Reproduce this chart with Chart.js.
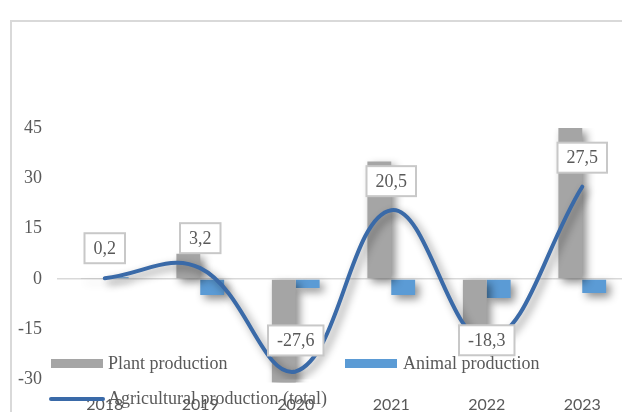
<!DOCTYPE html>
<html>
<head>
<meta charset="utf-8">
<script src="https://cdn.jsdelivr.net/npm/chart.js@4.4.1/dist/chart.umd.min.js"></script>
<style>
  html, body { margin: 0; padding: 0; background: #fff; overflow: hidden; }
  #wrap { width: 640px; height: 412px; }
</style>
</head>
<body>
<div id="wrap"><canvas id="myChart" width="640" height="412"></canvas></div>
<script>
// growth rates, %
const years = ['2018', '2019', '2020', '2021', '2022', '2023']
const plantProduction = [0.1, 7.5, -31, 35, -16, 45]
const animalProduction = [0.5, -4.8, -2.7, -4.8, -5.7, -4.2]
const totalProduction = [0.2, 3.2, -27.6, 20.5, -18.3, 27.5]

const yMin = -30
const yMax = 45
const yStep = 15

const seriesNames = ['Plant production', 'Animal production', 'Agricultural production (total)']

const grey = '#a5a5a5'
const blue = '#5b9bd5'
const darkBlue = '#3a6aa8'
const textGrey = '#595959'

// label sits above its point, except the 2022 one which is centred on it
const labelLift = [30, 30, 31, 29, 0, 29]

function fmt(v) {
  return v.toFixed(1).replace('.', ',')
}

// soft drop shadow under bars and the line
const shadowPlugin = {
  id: 'shadow',
  beforeDatasetDraw(chart) {
    const ctx = chart.ctx
    ctx.save()
    ctx.shadowColor = 'rgba(0,0,0,0.45)'
    ctx.shadowBlur = 8
    ctx.shadowOffsetX = 4
    ctx.shadowOffsetY = 4
  },
  afterDatasetDraw(chart) {
    chart.ctx.restore()
  }
}

// outer frame of the chart
const framePlugin = {
  id: 'frame',
  beforeDraw(chart) {
    const ctx = chart.ctx
    ctx.save()
    ctx.strokeStyle = '#d9d9d9'
    ctx.lineWidth = 2
    ctx.beginPath()
    ctx.moveTo(11, chart.height)
    ctx.lineTo(11, 21)
    ctx.lineTo(chart.width, 21)
    ctx.stroke()
    ctx.restore()
  }
}

// boxed value labels on the total line
const boxLabels = {
  id: 'boxLabels',
  afterDatasetsDraw(chart) {
    const ctx = chart.ctx
    const meta = chart.getDatasetMeta(0)
    const vals = chart.data.datasets[0].data
    ctx.save()
    ctx.font = '18px "Liberation Serif", "Times New Roman", serif'
    ctx.textAlign = 'center'
    ctx.textBaseline = 'middle'
    meta.data.forEach((pt, i) => {
      const txt = fmt(vals[i])
      const w = ctx.measureText(txt).width + 18
      const h = 30
      const cx = pt.x
      const cy = pt.y - labelLift[i]
      ctx.fillStyle = '#fff'
      ctx.fillRect(cx - w / 2, cy - h / 2, w, h)
      ctx.strokeStyle = '#c8c8c8'
      ctx.lineWidth = 2
      ctx.strokeRect(cx - w / 2, cy - h / 2, w, h)
      ctx.fillStyle = textGrey
      ctx.fillText(txt, cx, cy + 1)
    })
    ctx.restore()
  }
}

// legend drawn inside the plot, over the bottom of the chart
const innerLegend = {
  id: 'innerLegend',
  afterDraw(chart) {
    const ctx = chart.ctx
    const ds = chart.data.datasets
    ctx.save()
    ctx.font = '18px "Liberation Serif", "Times New Roman", serif'
    ctx.textBaseline = 'middle'
    ctx.fillStyle = ds[1].backgroundColor
    ctx.fillRect(51, 359, 52, 9)
    ctx.fillStyle = ds[2].backgroundColor
    ctx.fillRect(345, 359, 52, 9)
    ctx.strokeStyle = ds[0].borderColor
    ctx.lineWidth = 4
    ctx.lineCap = 'round'
    ctx.beginPath()
    ctx.moveTo(51, 399)
    ctx.lineTo(103, 399)
    ctx.stroke()
    ctx.fillStyle = textGrey
    ctx.fillText(ds[1].label, 108, 364)
    ctx.fillText(ds[2].label, 403, 364)
    ctx.fillText(ds[0].label, 108, 399)
    ctx.restore()
  }
}

const data = {
  labels: years,
  datasets: [
    {
      type: 'line',
      label: seriesNames[2],
      data: totalProduction,
      borderColor: darkBlue,
      backgroundColor: darkBlue,
      borderWidth: 4,
      borderCapStyle: 'round',
      tension: 0.4,
      pointRadius: 0,
      fill: false,
      order: 0
    },
    {
      type: 'bar',
      label: seriesNames[0],
      data: plantProduction,
      backgroundColor: grey,
      categoryPercentage: 0.5,
      barPercentage: 1.0,
      clip: { left: 0, top: 0, right: 0, bottom: 3 },
      order: 1
    },
    {
      type: 'bar',
      label: seriesNames[1],
      data: animalProduction,
      backgroundColor: blue,
      categoryPercentage: 0.5,
      barPercentage: 1.0,
      order: 1
    }
  ]
}

const config = {
  data: data,
  options: {
    responsive: false,
    devicePixelRatio: 1,
    animation: false,
    layout: { padding: { top: 128, right: 10, bottom: 0, left: 0 } },
    plugins: {
      legend: { display: false },
      tooltip: { enabled: false }
    },
    scales: {
      x: {
        grid: { display: false, drawTicks: false },
        border: { display: false },
        ticks: {
          color: textGrey,
          font: { family: 'Lato, "Liberation Sans", sans-serif', size: 16 },
          padding: 16
        },
        afterFit(s) { s.height = 32.5 }
      },
      y: {
        min: yMin,
        max: yMax,
        border: { display: false },
        grid: {
          drawTicks: false,
          color: (c) => (c.tick && c.tick.value === 0 ? '#d9d9d9' : 'rgba(0,0,0,0)'),
          lineWidth: 1.5
        },
        ticks: {
          stepSize: yStep,
          color: textGrey,
          font: { family: '"Liberation Serif", "Times New Roman", serif', size: 18 },
          padding: 15
        },
        afterFit(s) { s.width = 57 }
      }
    }
  },
  plugins: [framePlugin, shadowPlugin, boxLabels, innerLegend]
}

const ctx = document.getElementById('myChart')
const chart = new Chart(ctx, config)
</script>
</body>
</html>
